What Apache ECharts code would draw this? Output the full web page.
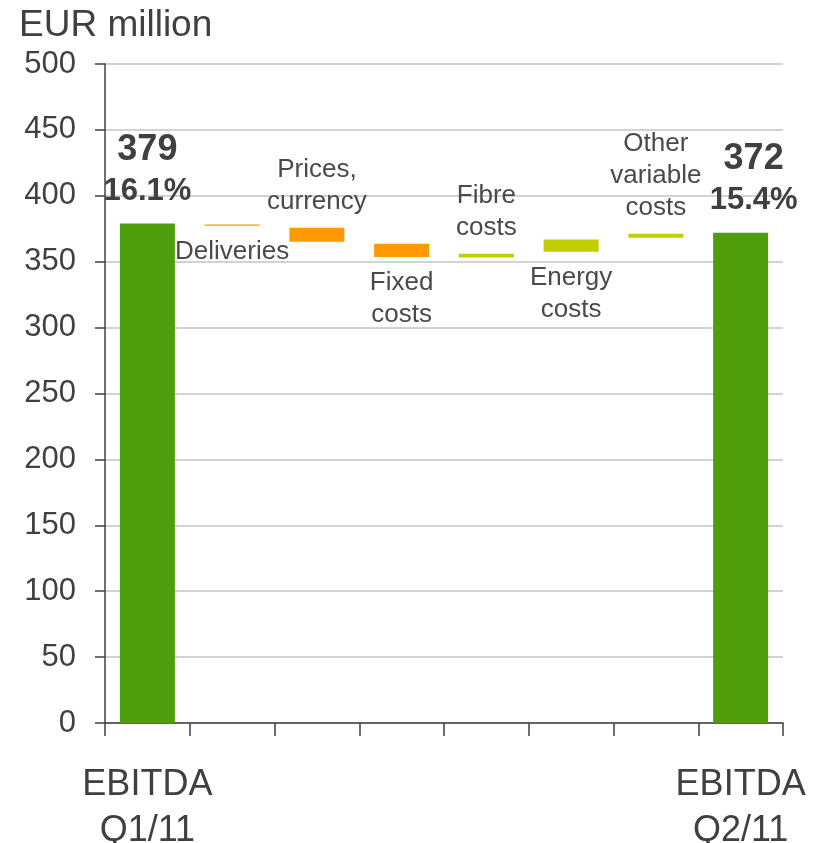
<!DOCTYPE html>
<html>
<head>
<meta charset="utf-8">
<title>EBITDA bridge Q1/11 to Q2/11</title>
<script src="https://cdn.jsdelivr.net/npm/echarts@6/dist/echarts.min.js"></script>
<style>
  html, body { margin: 0; padding: 0; background: #ffffff; }
  #chart { width: 827px; height: 843px; }
</style>
</head>
<body>
<div id="chart"></div>
<script>
// ---- data (EUR million) ----
const categories = [
  'EBITDA\nQ1/11', 'Deliveries', 'Prices,\ncurrency', 'Fixed\ncosts',
  'Fibre\ncosts', 'Energy\ncosts', 'Other\nvariable\ncosts', 'EBITDA\nQ2/11'
];
const openingEbitda = 379;
const closingEbitda = 372;
const openingMargin = '16.1%';
const closingMargin = '15.4%';
// floating bridge steps: lower and upper edge of each step bar
const stepLow  = [377.3, 365.2, 353.5, 353.1, 357.6, 368.2];
const stepHigh = [378.3, 375.8, 363.7, 356.1, 366.9, 371.3];
const yTicks = [0, 50, 100, 150, 200, 250, 300, 350, 400, 450, 500];

// ---- styling ----
const FONT = "'Liberation Sans', Arial, Helvetica, sans-serif";
const GREEN = '#4f9c0d';
const ORANGE = '#ff9900';
const LIME = '#c1cf00';
const stepColors = [ORANGE, ORANGE, ORANGE, LIME, LIME, LIME];
const stepLabelSide = ['bottom', 'top', 'bottom', 'top', 'bottom', 'top'];

const totalLabel = (margin, dx) => ({
  show: true,
  position: 'top',
  distance: 14,
  offset: [dx, 0],
  formatter: (p) => '{v|' + p.value + '}\n{m|' + margin + '}',
  rich: {
    v: { fontFamily: FONT, fontSize: 36, fontWeight: 'bold', color: '#404040', lineHeight: 47 },
    m: { fontFamily: FONT, fontSize: 31, fontWeight: 'bold', color: '#404040', lineHeight: 36 }
  }
});

const baseData = [0];
const valueData = [{
  value: openingEbitda,
  itemStyle: { color: GREEN },
  label: totalLabel(openingMargin, 0)
}];
stepLow.forEach((lo, i) => {
  baseData.push(lo);
  valueData.push({
    value: +(stepHigh[i] - lo).toFixed(2),
    itemStyle: { color: stepColors[i] },
    label: {
      show: true,
      position: stepLabelSide[i],
      distance: 10,
      formatter: () => categories[i + 1],
      fontFamily: FONT,
      fontSize: 26,
      lineHeight: 32,
      color: '#4a4a4a'
    }
  });
});
baseData.push(0);
valueData.push({
  value: closingEbitda,
  itemStyle: { color: GREEN },
  label: totalLabel(closingMargin, 13)
});

const chart = echarts.init(document.getElementById('chart'), null, { renderer: 'canvas' });
chart.setOption({
  animation: false,
  backgroundColor: '#ffffff',
  title: {
    text: 'EUR million',
    left: 14,
    top: 2,
    textStyle: { fontFamily: FONT, fontSize: 37, fontWeight: 'normal', color: '#404040' }
  },
  grid: { left: 105, right: 44, top: 64, bottom: 120, containLabel: false, outerBoundsMode: 'none' },
  xAxis: {
    type: 'category',
    data: categories,
    boundaryGap: true,
    axisLine: { lineStyle: { color: '#404040', width: 1.5 } },
    axisTick: { show: true, length: 13, lineStyle: { color: '#404040', width: 1.5 } },
    axisLabel: {
      interval: 0,
      margin: 39,
      fontFamily: FONT,
      fontSize: 36,
      lineHeight: 46,
      color: '#404040',
      formatter: (v, idx) => (idx === 0 || idx === categories.length - 1) ? v : ''
    },
    splitLine: { show: false }
  },
  yAxis: {
    type: 'value',
    min: yTicks[0],
    max: yTicks[yTicks.length - 1],
    interval: yTicks[1] - yTicks[0],
    axisLine: { show: true, lineStyle: { color: '#404040', width: 1.5 } },
    axisTick: { show: true, length: 10, lineStyle: { color: '#404040', width: 1.5 } },
    axisLabel: { margin: 29, fontFamily: FONT, fontSize: 31, color: '#404040' },
    splitLine: { show: true, lineStyle: { color: '#c4c4c4', width: 1.5 } }
  },
  series: [
    {
      name: 'base',
      type: 'bar',
      stack: 'bridge',
      barWidth: 55,
      silent: true,
      itemStyle: { color: 'transparent' },
      data: baseData
    },
    {
      name: 'EBITDA bridge',
      type: 'bar',
      stack: 'bridge',
      barWidth: 55,
      data: valueData
    }
  ]
});
</script>
</body>
</html>
